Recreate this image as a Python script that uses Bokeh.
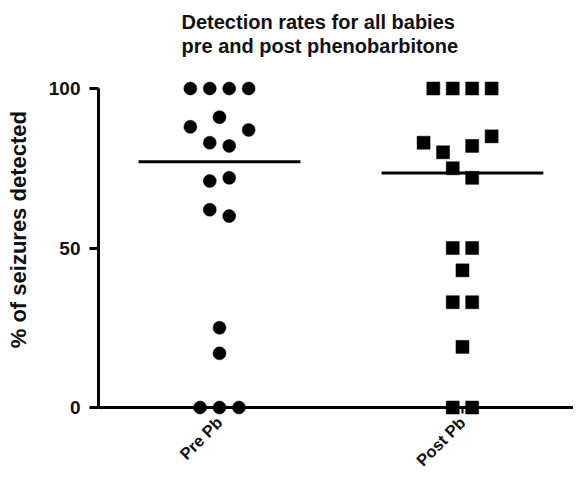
import numpy as np
from math import pi
from bokeh.plotting import figure
from bokeh.models import FixedTicker, ColumnDataSource, Title
from bokeh.embed import file_html
from bokeh.resources import INLINE

# ---- data ----
categories = ["Pre Pb", "Post Pb"]
pre_values = [100, 100, 100, 100, 88, 91, 87, 83, 82, 71, 72, 62, 60, 25, 17, 0, 0, 0]
post_values = [100, 100, 100, 100, 83, 80, 82, 85, 75, 72, 50, 50, 43, 33, 33, 19, 0, 0]
y_ticks = [0, 50, 100]

# scatter (jitter) slot of each point, as in the reference layout
pre_slot = [-1.5, -0.5, 0.5, 1.5, -1.5, 0, 1.5, -0.5, 0.5, -0.5, 0.5, -0.5, 0.5, 0, 0, -1, 0, 1]
post_slot = [-1.5, -0.5, 0.5, 1.5, -2, -1, 0.5, 1.5, -0.5, 0.5, -0.5, 0.5, 0, -0.5, 0.5, 0, -0.5, 0.5]

SLOT_W = 0.080
HALF_LINE = 0.333
FONT = "Liberation Sans"

p = figure(width=573, height=478, output_backend="svg", toolbar_location=None,
           x_range=(0.502, 2.457), y_range=(0, 100),
           min_border_left=98, min_border_right=0, min_border_top=88, min_border_bottom=67)
p.title = Title(text="Detection rates for all babies\npre and post phenobarbitone\n",
                align="left", offset=83, text_font=FONT, text_font_size="20px",
                text_font_style="bold", text_color="#111111", text_line_height=1.1,
                standoff=14)
p.outline_line_color = None
p.grid.visible = False
p.background_fill_color = "white"
p.border_fill_color = "white"

def add_group(pos, vals, slots, marker):
    xs = [pos + s * SLOT_W for s in slots]
    src = ColumnDataSource(dict(x=xs, y=vals))
    r = p.scatter("x", "y", source=src, marker=marker, size=13,
                  fill_color="black", line_color="black", line_width=0.5)
    r.level = "overlay"
    med = float(np.median(vals))
    lr = p.line([pos - HALF_LINE, pos + HALF_LINE], [med, med], line_color="black", line_width=3)
    lr.level = "overlay"

add_group(1, pre_values, pre_slot, "circle")
add_group(2, post_values, post_slot, "square")

# y axis
ya = p.yaxis[0]
ya.ticker = FixedTicker(ticks=y_ticks)
ya.minor_tick_line_color = None
ya.major_tick_in = 0
ya.major_tick_out = 9
ya.major_tick_line_width = 3
ya.axis_line_width = 3
ya.major_label_standoff = 9
ya.major_label_text_font = FONT
ya.major_label_text_font_style = "bold"
ya.major_label_text_font_size = "19px"
ya.major_label_text_color = "#111111"
ya.axis_label = "\u00a0" * 6 + "% of seizures detected"
ya.axis_label_text_font = FONT
ya.axis_label_text_font_style = "bold"
ya.axis_label_text_font_size = "22px"
ya.axis_label_text_color = "#111111"
ya.axis_label_standoff = 15

# x axis
xa = p.xaxis[0]
xa.ticker = FixedTicker(ticks=[1, 2])
xa.major_label_overrides = {1: categories[0], 2: categories[1]}
xa.minor_tick_line_color = None
xa.major_tick_in = 0
xa.major_tick_out = 6
xa.major_tick_line_width = 2
xa.axis_line_width = 3
xa.major_label_orientation = pi / 4
xa.major_label_standoff = 6
xa.major_label_text_font = FONT
xa.major_label_text_font_style = "bold"
xa.major_label_text_font_size = "16.5px"
xa.major_label_text_color = "#111111"

open("out.html", "w").write(file_html(p, INLINE))
